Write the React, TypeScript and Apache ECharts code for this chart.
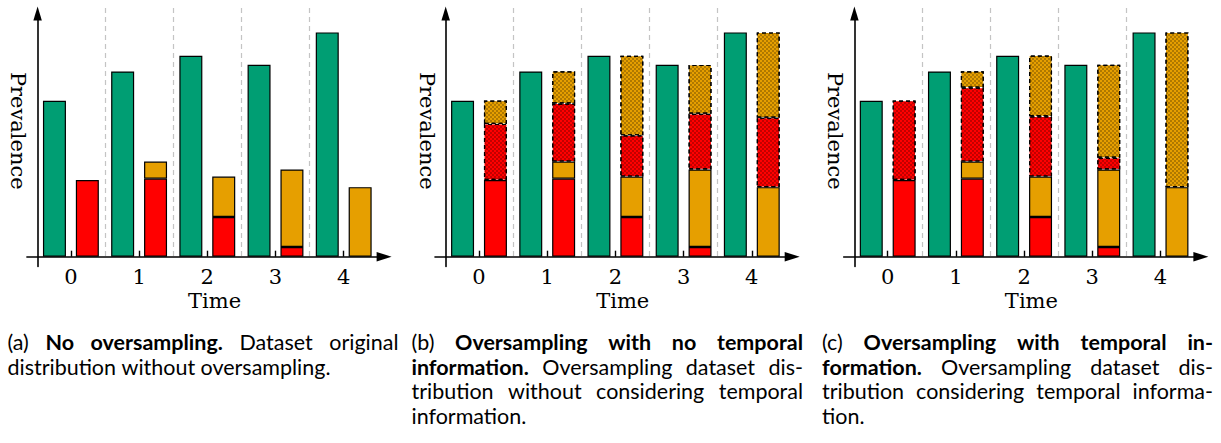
import React, { useEffect, useRef } from 'react';
import * as echarts from 'echarts';

// ---------------- data ----------------
const categories = ['0', '1', '2', '3', '4'];
const majority = [69.5, 82.6, 89.6, 85.6, 100];
const minorityRed = [34.2, 34.8, 17.7, 4.3, null];
const minorityOrange = [null, 7.6, 18.0, 34.6, 31.0];
const oversampledRedB = [25.0, 25.9, 18.4, 24.8, 31.0];
const oversampledOrangeB = [10.4, 14.4, 35.5, 21.8, 38.0];
const oversampledRedC = [35.4, 33.0, 26.9, 5.2, null];
const oversampledOrangeC = [null, 7.3, 27.1, 41.5, 69.0];

const xAxisTitle = 'Time';
const yAxisTitle = 'Prevalence';

const captionA = [
  { justify: true, runs: [['(a)', false], ['No oversampling.', true], ['Dataset original', false]] },
  { justify: false, runs: [['distribution without oversampling.', false]] },
];
const captionB = [
  { justify: true, runs: [['(b)', false], ['Oversampling with no temporal', true]] },
  { justify: true, runs: [['information.', true], ['Oversampling dataset dis-', false]] },
  { justify: true, runs: [['tribution without considering temporal', false]] },
  { justify: false, runs: [['information.', false]] },
];
const captionC = [
  { justify: true, runs: [['(c)', false], ['Oversampling with temporal in-', true]] },
  { justify: true, runs: [['formation.', true], ['Oversampling dataset dis-', false]] },
  { justify: true, runs: [['tribution considering temporal informa-', false]] },
  { justify: false, runs: [['tion.', false]] },
];

// ---------------- layout ----------------
const W = 1221;
const H = 443;
const AXIS_X = [37.6, 445.7, 854.4];
const BASE_Y = 256.7;
const TOP_Y = 8;
const PX_PER_UNIT = 2.243;
const BAND_W = 68.2;
const Y_MAX = (BASE_Y - TOP_Y) / PX_PER_UNIT;
const CAP_LEFT = [7.5, 411.5, 822];
const CAP_RIGHT = [398.5, 803, 1213];
const CAP_Y = [342, 366.7, 391.4, 416.1];
const CAP_FONT = 21;
const CAP_FAMILY = 'Lato';
const CAP_SQUEEZE = 0.95;
const SERIF = 'DejaVu Serif';

const GREEN = '#009E73';
const RED = '#FF0000';
const ORANGE = '#E69F00';

const hatch = {
  symbol: 'rect',
  symbolSize: 1,
  dashArrayX: [[2, 2], [0, 2, 2, 0]],
  dashArrayY: [2, 0],
  color: 'rgba(0,0,0,0.24)',
  rotation: 0,
};

function buildCaptions() {
  const canvas = document.createElement('canvas');
  const ctx = canvas.getContext('2d')!;
  const measure = (t: string, bold: boolean) => {
    ctx.font = `${bold ? 'bold ' : ''}${CAP_FONT}px ${CAP_FAMILY}`;
    return ctx.measureText(t).width;
  };
  const space = measure(' ', false);
  const caps = [captionA, captionB, captionC];
  const prepared = caps.map((lines) =>
    lines.map((ln) => {
      const words: { t: string; b: boolean; w: number }[] = [];
      ln.runs.forEach(([txt, b]: any) => {
        (txt as string).split(' ').forEach((t) => {
          if (t) words.push({ t, b, w: measure(t, b) });
        });
      });
      return { justify: ln.justify, words };
    })
  );
  let sTight = 10;
  prepared.forEach((lines, ci) => {
    const target = CAP_RIGHT[ci] - CAP_LEFT[ci];
    lines.forEach((ln) => {
      if (!ln.justify) return;
      const nat = ln.words.reduce((a, w) => a + w.w, 0) + (ln.words.length - 1) * space;
      sTight = Math.min(sTight, target / nat);
    });
  });
  const s = Math.max(0.7, Math.min(1.2, sTight * CAP_SQUEEZE));
  const els: any[] = [];
  prepared.forEach((lines, ci) => {
    const target = CAP_RIGHT[ci] - CAP_LEFT[ci];
    lines.forEach((ln, li) => {
      const n = ln.words.length;
      const sum = ln.words.reduce((a, w) => a + w.w * s, 0);
      const gap = ln.justify && n > 1 ? (target - sum) / (n - 1) : space * s;
      let x = CAP_LEFT[ci];
      ln.words.forEach((w) => {
        els.push({
          type: 'text',
          x,
          y: CAP_Y[li],
          scaleX: s,
          silent: true,
          style: {
            text: w.t,
            fontSize: CAP_FONT,
            fontFamily: CAP_FAMILY,
            fontWeight: w.b ? 'bold' : 'normal',
            fill: '#000',
            textAlign: 'left',
            align: 'left',
            textVerticalAlign: 'middle',
            verticalAlign: 'middle',
          },
        });
        x += w.w * s + gap;
      });
    });
  });
  return els;
}

function buildOption() {
  const grid: any[] = [];
  const xAxis: any[] = [];
  const yAxis: any[] = [];
  const series: any[] = [];
  const graphic: any[] = [];
  const hatched = [null, [oversampledRedB, oversampledOrangeB], [oversampledRedC, oversampledOrangeC]];

  for (let i = 0; i < 3; i++) {
    const ax = AXIS_X[i];
    const bandLeft = ax - 0.8;
    grid.push({ left: bandLeft, top: TOP_Y, width: BAND_W * 5, height: BASE_Y - TOP_Y });
    xAxis.push({
      type: 'category',
      gridIndex: i,
      data: categories,
      axisLine: { show: false },
      axisTick: { show: true, inside: true, length: 6, alignWithLabel: true, lineStyle: { color: '#000', width: 1.4 } },
      axisLabel: { fontFamily: SERIF, fontSize: 21, color: '#000', margin: 10 },
      splitLine: {
        show: true,
        interval: 0,
        showMinLine: false,
        showMaxLine: false,
        lineStyle: { color: '#c4c4c4', width: 1.2, type: [5, 4] },
      },
    });
    yAxis.push({ type: 'value', gridIndex: i, min: 0, max: Y_MAX, show: false });

    const barBase = {
      type: 'bar',
      xAxisIndex: i,
      yAxisIndex: i,
      barWidth: 23,
      barGap: '43%',
      silent: true,
    };
    series.push({
      ...barBase,
      name: 'majority',
      data: majority,
      itemStyle: { color: GREEN, borderColor: '#000', borderWidth: 1.2 },
    });
    series.push({
      ...barBase,
      name: 'minority red',
      stack: 'min' + i,
      data: minorityRed,
      itemStyle: { color: RED, borderColor: '#000', borderWidth: 1.2 },
    });
    series.push({
      ...barBase,
      name: 'minority orange',
      stack: 'min' + i,
      data: minorityOrange,
      itemStyle: { color: ORANGE, borderColor: '#000', borderWidth: 1.2 },
    });
    const h = hatched[i];
    if (h) {
      series.push({
        ...barBase,
        name: 'oversampled red',
        stack: 'min' + i,
        data: h[0],
        itemStyle: { color: RED, borderColor: '#000', borderWidth: 1.2, borderType: [4, 3], decal: hatch },
      });
      series.push({
        ...barBase,
        name: 'oversampled orange',
        stack: 'min' + i,
        data: h[1],
        itemStyle: { color: ORANGE, borderColor: '#000', borderWidth: 1.2, borderType: [4, 3], decal: hatch },
      });
    }
  }

  // axis-arrow grids
  for (let i = 0; i < 3; i++) {
    const ax = AXIS_X[i];
    const left = ax - 10.7;
    const rightEnd = ax + 354 - 7.5;
    const top = 6.5 + 7;
    const bottom = 266.5;
    grid.push({ left, top, width: rightEnd - left, height: bottom - top });
    xAxis.push({
      type: 'value',
      gridIndex: 3 + i,
      min: left - ax,
      max: rightEnd - ax,
      axisLine: {
        show: true,
        onZero: true,
        symbol: ['none', 'triangle'],
        symbolSize: [9.5, 15],
        lineStyle: { color: '#000', width: 1.6 },
      },
      axisTick: { show: false },
      axisLabel: { show: false },
      splitLine: { show: false },
    });
    yAxis.push({
      type: 'value',
      gridIndex: 3 + i,
      min: -(bottom - BASE_Y),
      max: BASE_Y - top,
      axisLine: {
        show: true,
        onZero: true,
        symbol: ['none', 'triangle'],
        symbolSize: [8.5, 14],
        lineStyle: { color: '#000', width: 1.6 },
      },
      axisTick: { show: false },
      axisLabel: { show: false },
      splitLine: { show: false },
    });

    graphic.push({
      type: 'text',
      x: ax + 177,
      y: 300.5,
      silent: true,
      style: {
        text: xAxisTitle,
        fontSize: 21,
        fontFamily: SERIF,
        fill: '#000',
        textAlign: 'center',
        align: 'center',
        textVerticalAlign: 'middle',
        verticalAlign: 'middle',
      },
    });
    graphic.push({
      type: 'text',
      x: ax - 19.2,
      y: 130.8,
      rotation: -Math.PI / 2,
      silent: true,
      style: {
        text: yAxisTitle,
        fontSize: 21,
        fontFamily: SERIF,
        fill: '#000',
        textAlign: 'center',
        align: 'center',
        textVerticalAlign: 'middle',
        verticalAlign: 'middle',
      },
    });
  }

  graphic.push(...buildCaptions());

  return {
    animation: false,
    backgroundColor: '#fff',
    grid,
    xAxis,
    yAxis,
    series,
    graphic,
  };
}

export default function App() {
  const ref = useRef<HTMLDivElement>(null);
  useEffect(() => {
    const el = ref.current;
    if (!el) return;
    const chart = echarts.init(el, null, { renderer: 'svg' });
    chart.setOption(buildOption() as any);
    return () => chart.dispose();
  }, []);
  return (
    <div
      ref={ref}
      style={{ position: 'absolute', left: 0, top: 0, width: W, height: H, background: '#fff' }}
    />
  );
}
